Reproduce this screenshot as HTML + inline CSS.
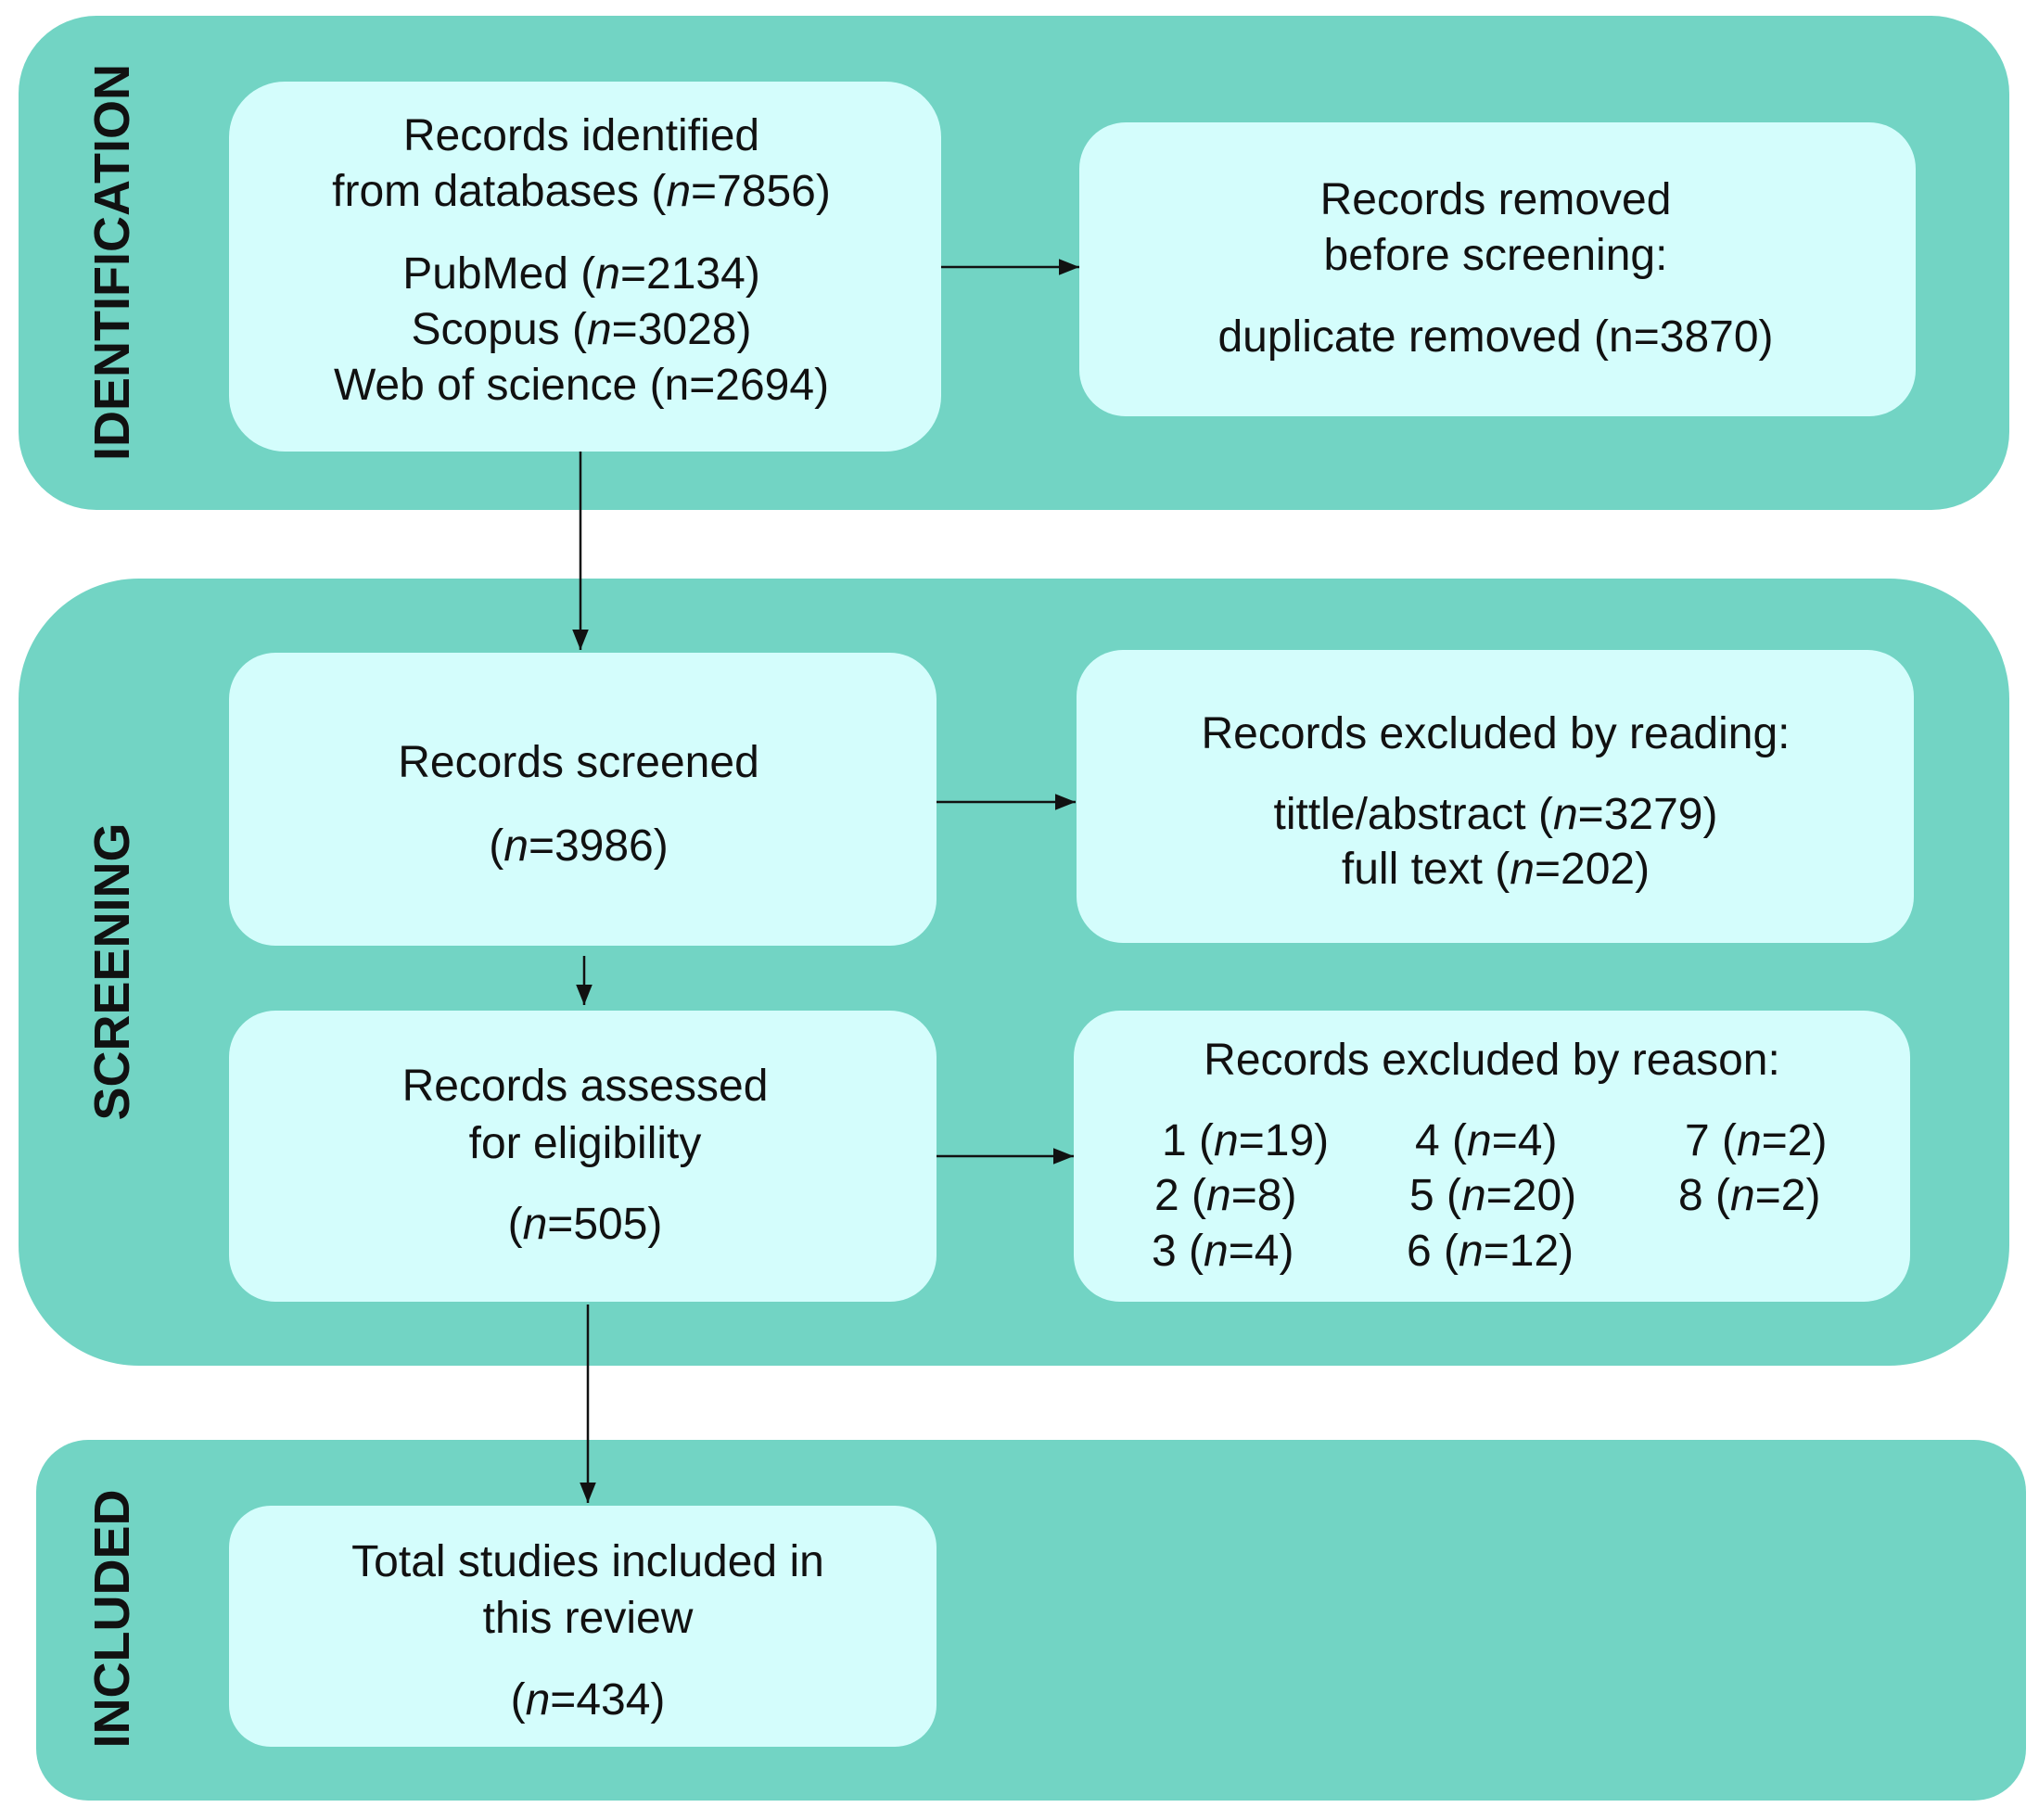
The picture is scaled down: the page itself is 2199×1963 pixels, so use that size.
<!DOCTYPE html>
<html><head><meta charset="utf-8"><style>
html,body{margin:0;padding:0;background:#fff}
svg{display:block}
text{font-family:"Liberation Sans",Arial,sans-serif;fill:#111}
.t{font-size:48px;text-anchor:middle}
.l{font-size:48px}
.s{font-size:54px;font-weight:bold;text-anchor:middle}
</style></head><body>
<svg width="2199" height="1963" viewBox="0 0 2199 1963" xmlns="http://www.w3.org/2000/svg">
<defs>
<marker id="b" viewBox="0 0 10 10" markerWidth="22" markerHeight="22" refX="10" refY="5" orient="auto" markerUnits="userSpaceOnUse"><path d="M0,1 L10,5 L0,9 z" fill="#111"/></marker></defs>
<rect x="20" y="17" width="2147" height="533" rx="84" fill="#72d4c4"/>
<rect x="20" y="624" width="2147" height="849" rx="130" fill="#72d4c4"/>
<rect x="39" y="1553" width="2146" height="389" rx="56" fill="#72d4c4"/>
<g fill="#d4fdfc">
<rect x="247" y="88" width="768" height="399" rx="60"/>
<rect x="1164" y="132" width="902" height="317" rx="50"/>
<rect x="247" y="704" width="763" height="316" rx="50"/>
<rect x="1161" y="701" width="903" height="316" rx="50"/>
<rect x="247" y="1090" width="763" height="314" rx="50"/>
<rect x="1158" y="1090" width="902" height="314" rx="50"/>
<rect x="247" y="1624" width="763" height="260" rx="45"/>
</g>
<g stroke="#111" stroke-width="2.5" marker-end="url(#b)">
<line x1="1015" y1="288" x2="1164" y2="288"/>
<line x1="626" y1="487" x2="626" y2="701"/>
<line x1="1010" y1="865" x2="1160" y2="865"/>
<line x1="630" y1="1031" x2="630" y2="1084"/>
<line x1="1010" y1="1247" x2="1158" y2="1247"/>
<line x1="634" y1="1407" x2="634" y2="1621"/>
</g>
<text class="s" transform="translate(139,283) rotate(-90)">IDENTIFICATION</text>
<text class="s" transform="translate(139,1048) rotate(-90)">SCREENING</text>
<text class="s" transform="translate(139,1746) rotate(-90)">INCLUDED</text>
<text class="t" x="627" y="162">Records identified</text>
<text class="t" x="627" y="222">from databases (<tspan font-style="italic">n</tspan>=7856)</text>
<text class="t" x="627" y="311">PubMed (<tspan font-style="italic">n</tspan>=2134)</text>
<text class="t" x="627" y="371">Scopus (<tspan font-style="italic">n</tspan>=3028)</text>
<text class="t" x="627" y="431">Web of science (n=2694)</text>
<text class="t" x="1613" y="231">Records removed</text>
<text class="t" x="1613" y="291">before screening:</text>
<text class="t" x="1613" y="379">duplicate removed (n=3870)</text>
<text class="t" x="624" y="838">Records screened</text>
<text class="t" x="624" y="928">(<tspan font-style="italic">n</tspan>=3986)</text>
<text class="t" x="1613" y="807">Records excluded by reading:</text>
<text class="t" x="1613" y="894">tittle/abstract (<tspan font-style="italic">n</tspan>=3279)</text>
<text class="t" x="1613" y="953">full text (<tspan font-style="italic">n</tspan>=202)</text>
<text class="t" x="631" y="1187">Records assessed</text>
<text class="t" x="631" y="1249">for eligibility</text>
<text class="t" x="631" y="1336">(<tspan font-style="italic">n</tspan>=505)</text>
<text class="t" x="1609" y="1159">Records excluded by reason:</text>
<text class="t" x="634" y="1700">Total studies included in</text>
<text class="t" x="634" y="1761">this review</text>
<text class="t" x="634" y="1849">(<tspan font-style="italic">n</tspan>=434)</text>
<text class="l" x="1253" y="1246">1 (<tspan font-style="italic">n</tspan>=19)</text>
<text class="l" x="1245" y="1305">2 (<tspan font-style="italic">n</tspan>=8)</text>
<text class="l" x="1242" y="1365">3 (<tspan font-style="italic">n</tspan>=4)</text>
<text class="l" x="1526" y="1246">4 (<tspan font-style="italic">n</tspan>=4)</text>
<text class="l" x="1520" y="1305">5 (<tspan font-style="italic">n</tspan>=20)</text>
<text class="l" x="1517" y="1365">6 (<tspan font-style="italic">n</tspan>=12)</text>
<text class="l" x="1817" y="1246">7 (<tspan font-style="italic">n</tspan>=2)</text>
<text class="l" x="1810" y="1305">8 (<tspan font-style="italic">n</tspan>=2)</text>
</svg>
</body></html>
